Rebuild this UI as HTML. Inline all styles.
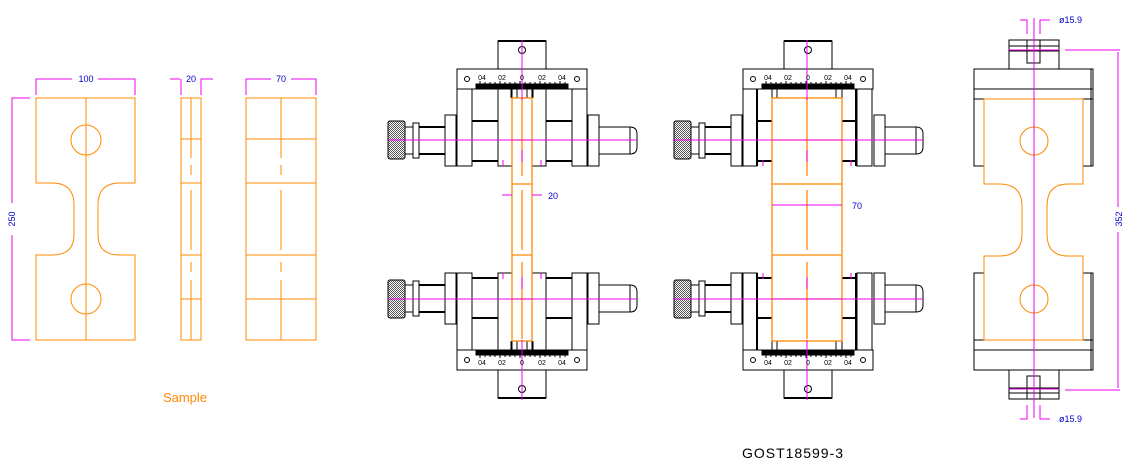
<!DOCTYPE html>
<html><head><meta charset="utf-8"><style>
html,body{margin:0;padding:0;background:#fff;}
svg{display:block;}
text{font-family:"Liberation Sans",sans-serif;}
</style></head><body>
<svg width="1130" height="474" viewBox="0 0 1130 474" xmlns="http://www.w3.org/2000/svg">
<defs>
<pattern id="hatch" width="2" height="2" patternUnits="userSpaceOnUse">
<rect width="2" height="2" fill="#fff"/><rect width="1" height="1" fill="#555"/><rect x="1" y="1" width="1" height="1" fill="#555"/>
</pattern>
<g id="mech" fill="none" stroke="#000" stroke-width="1">
<rect x="498" y="41" width="48" height="28" fill="#fff"/>
<line x1="498" y1="41" x2="546" y2="41" stroke-width="2"/>
<circle cx="522" cy="50" r="3.5"/>
<rect x="457" y="69" width="130" height="20" fill="#fff"/>
<circle cx="467" cy="79" r="2.5"/><circle cx="577" cy="79" r="2.5"/>
<rect x="476" y="84" width="92" height="4" fill="#000"/>
<path d="M480 84v-3M485 84v-2M490 84v-2M495 84v-2M500 84v-3M505 84v-2M510 84v-2M515 84v-2M520 84v-3M525 84v-2M530 84v-2M535 84v-2M540 84v-3M545 84v-2M550 84v-2M555 84v-2M560 84v-3M565 84v-2"/>
<rect x="388" y="121" width="17" height="38" rx="2" fill="url(#hatch)"/>
<rect x="405" y="127" width="8" height="27"/>
<rect x="413" y="123" width="6" height="35"/>
<rect x="419" y="127" width="26" height="27"/>
<line x1="419" y1="127" x2="445" y2="127" stroke-width="2"/>
<line x1="419" y1="154" x2="445" y2="154" stroke-width="2"/>
<rect x="445" y="115" width="11" height="51" fill="#fff"/>
<rect x="588" y="115" width="11" height="51" fill="#fff"/>
<path d="M599 127h31q7 0 7 7v13q0 7-7 7h-31"/>
<line x1="630" y1="127" x2="630" y2="154"/>
</g>
<g id="fx1" fill="none" stroke="#000" stroke-width="1">
<use href="#mech"/>
<rect x="457" y="89" width="15" height="77"/>
<rect x="498" y="89" width="14" height="77"/>
<rect x="532" y="89" width="14" height="77"/>
<rect x="572" y="89" width="15" height="77"/>
<line x1="472" y1="121" x2="498" y2="121" stroke-width="2"/>
<line x1="472" y1="161" x2="498" y2="161" stroke-width="2"/>
<line x1="546" y1="121" x2="572" y2="121" stroke-width="2"/>
<line x1="546" y1="161" x2="572" y2="161" stroke-width="2"/>
<path d="M511 89v9M517 89v9M527 89v9M533 89v9"/>
<path d="M503 160v6M541 160v6" stroke="#e0e"/>
</g>
<g id="fx2" fill="none" stroke="#000" stroke-width="1">
<use href="#mech" transform="translate(286,0)"/>
<rect x="743" y="89" width="14" height="77"/>
<rect x="857" y="89" width="15" height="77"/>
<line x1="757" y1="89" x2="757" y2="166" stroke-width="2"/>
<line x1="856" y1="89" x2="856" y2="166" stroke-width="2"/>
<line x1="758" y1="121" x2="772" y2="121" stroke-width="2"/>
<line x1="842" y1="121" x2="856" y2="121" stroke-width="2"/>
<line x1="758" y1="161" x2="772" y2="161" stroke-width="2"/>
<line x1="842" y1="161" x2="856" y2="161" stroke-width="2"/>
<path d="M772 89v9M777 89v9M836 89v9M842 89v9"/>
<path d="M763 160v6M851 160v6" stroke="#e0e"/>
</g>
<g id="rcap" fill="none" stroke="#000" stroke-width="1">
<rect x="1009" y="40" width="50" height="29"/>
<path d="M1009 46h50M1009 51h50"/>
<rect x="1027" y="40" width="13" height="23"/>
<rect x="974" y="69" width="119" height="20"/>
<rect x="974" y="89" width="119" height="10"/>
<path d="M974 99v67h10M1093 99v67h-10M1091 69v97"/>
</g>
</defs>

<!-- LEFT SAMPLE VIEWS -->
<g fill="none" stroke="#f80" stroke-width="1">
<path d="M36 98H135V183H120Q98 183 98 205V235Q98 255 120 255H135V340H36V255H52Q74 255 74 235V205Q74 183 52 183H36Z"/>
<line x1="86" y1="98" x2="86" y2="340"/>
<circle cx="86" cy="140" r="15"/>
<circle cx="86" cy="299" r="15"/>
<rect x="181" y="98" width="20" height="242"/>
<path d="M181 139h20M181 183h20M181 255h20M181 299h20"/>
<path d="M191 98v60M191 165v10M191 190v60M191 262v10M191 280v60"/>
<rect x="246" y="98" width="70" height="242"/>
<path d="M246 139h70M246 183h70M246 255h70M246 299h70"/>
<path d="M281 98v60M281 165v10M281 190v60M281 262v10M281 280v60"/>
</g>
<g fill="none" stroke="#e0e" stroke-width="1">
<path d="M36 95V79h36M98 79h37v16"/>
<path d="M170 79h10M181 79v16M201 95v-16h12"/>
<path d="M246 95V79h25M291 79h25v16"/>
<path d="M30 98H12v105M12 235v105h18"/>
</g>
<g fill="#00c" font-size="9" text-anchor="middle">
<text x="86" y="82">100</text>
<text x="191" y="82">20</text>
<text x="281" y="82">70</text>
<text transform="translate(15,219) rotate(-90)">250</text>
</g>
<text x="185" y="402" fill="#f80" font-size="13" text-anchor="middle">Sample</text>

<!-- FIXTURE 1 -->
<use href="#fx1"/>
<use href="#fx1" transform="translate(0,439) scale(1,-1)"/>
<g fill="none" stroke="#f80" stroke-width="1.3">
<rect x="512" y="98" width="20" height="243"/>
<path d="M512 140h20M512 184h20M512 255h20M512 299h20"/>
<path d="M522 98v78M522 190v60M522 262v77"/>
</g>
<g fill="none" stroke="#e0e" stroke-width="1">
<path d="M388 140H637M388 299H637M522 40v60M522 150v12M522 277v12M522 340v60"/>
<path d="M502 195h10M532 195h10"/>
</g>
<text x="548" y="199" fill="#00c" font-size="9">20</text>

<!-- FIXTURE 2 -->
<use href="#fx2"/>
<use href="#fx2" transform="translate(0,439) scale(1,-1)"/>
<g fill="none" stroke="#f80" stroke-width="1.3">
<rect x="772" y="98" width="70" height="243"/>
<path d="M772 140h70M772 184h70M772 255h70M772 299h70"/>
<path d="M807 98v78M807 190v60M807 262v77"/>
</g>
<g fill="none" stroke="#e0e" stroke-width="1">
<path d="M673 140H923M673 299H923M807 40v60M807 150v12M807 277v12M807 340v60"/>
<path d="M772 205h70"/>
</g>
<text x="852" y="209" fill="#00c" font-size="9">70</text>

<g font-size="7" text-anchor="middle" fill="#000">
<text x="482" y="80">04</text><text x="502" y="80">02</text><text x="522" y="80">0</text><text x="542" y="80">02</text><text x="562" y="80">04</text>
<text x="482" y="365">04</text><text x="502" y="365">02</text><text x="522" y="365">0</text><text x="542" y="365">02</text><text x="562" y="365">04</text>
<text x="768" y="80">04</text><text x="788" y="80">02</text><text x="808" y="80">0</text><text x="828" y="80">02</text><text x="848" y="80">04</text>
<text x="768" y="365">04</text><text x="788" y="365">02</text><text x="808" y="365">0</text><text x="828" y="365">02</text><text x="848" y="365">04</text>
</g>

<!-- RIGHT VIEW -->
<use href="#rcap"/>
<use href="#rcap" transform="translate(0,439) scale(1,-1)"/>
<g fill="none" stroke="#f80" stroke-width="1">
<path d="M984 99H1083V184H1068Q1047 184 1047 206V234Q1047 256 1068 256H1083V340H984V256H999Q1022 256 1022 234V206Q1022 184 999 184H984Z"/>
<circle cx="1034" cy="141" r="14"/>
<circle cx="1034" cy="299" r="14"/>
<line x1="1034" y1="99" x2="1034" y2="340"/>
</g>
<g fill="none" stroke="#e0e" stroke-width="1">
<path d="M1034 18v400"/>
<path d="M1009 50h50M1009 389h50M1065 50h55M1065 390h55"/>
<path d="M1118 52v155M1118 232v156"/>
<path d="M1020 20h7v14M1040 34v-14h10M1020 419h7v-14M1040 405v14h10"/>
</g>
<g fill="#00c" font-size="9">
<text x="1059" y="23">ø15.9</text>
<text x="1059" y="422">ø15.9</text>
<text transform="translate(1122,219) rotate(-90)" text-anchor="middle">352</text>
</g>

<text x="793" y="458" font-size="14" letter-spacing="1" text-anchor="middle" fill="#000">GOST18599-3</text>
</svg>
</body></html>
